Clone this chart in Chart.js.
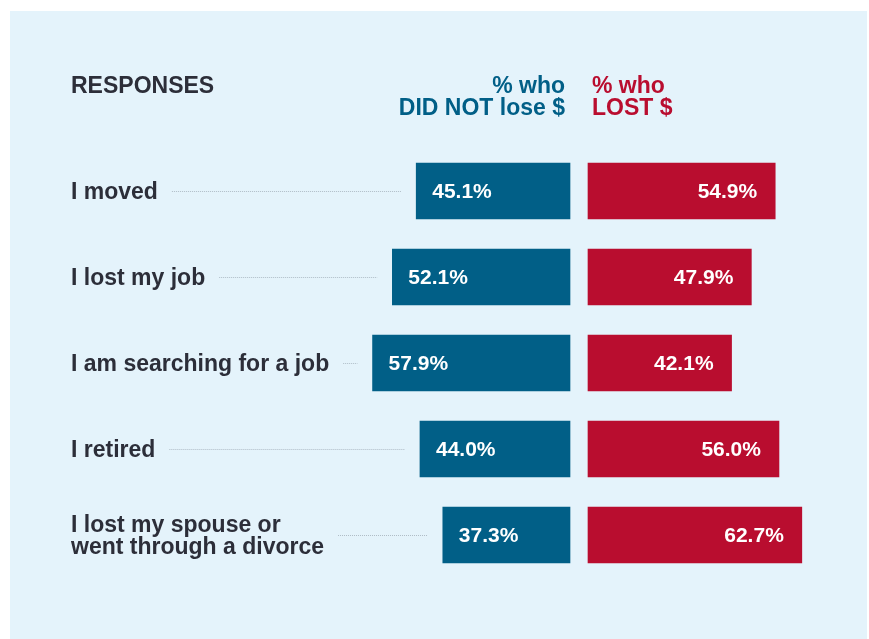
<!DOCTYPE html>
<html>
<head>
<meta charset="utf-8">
<script src="https://cdn.jsdelivr.net/npm/chart.js@4"></script>
<style>
  html, body { margin: 0; padding: 0; background: #fff; }
  #wrap { position: relative; width: 869px; height: 639px; }
  #panel { position: absolute; left: 10px; top: 11px; width: 857px; height: 628px; background: #e4f3fb; }
  #chart { position: absolute; left: 0; top: 0; }
</style>
</head>
<body>
<div id="wrap">
  <div id="panel"></div>
  <canvas id="chart" width="869" height="639"></canvas>
</div>
<script>
// --- data ---
const responses = [
  'I moved',
  'I lost my job',
  'I am searching for a job',
  'I retired',
  ['I lost my spouse or', 'went through a divorce']
];
const didNotLose = [45.1, 52.1, 57.9, 44.0, 37.3];
const lostMoney = [54.9, 47.9, 42.1, 56.0, 62.7];

const FONT = '"Liberation Sans", Arial, sans-serif';
const BLUE = '#015f87';
const RED = '#b90d2f';
const INK = '#2c2e39';

// layout: both bar groups share one px/% ratio, with a gap between their zero lines
const AREA_LEFT = 340, AREA_RIGHT = 860;
const PX_PER_PCT = 3.41;
const BLUE_ZERO = 570, RED_ZERO = 588;

// headers, leaders and value labels
const extras = {
  id: 'extras',
  afterDraw(chart) {
    const ctx = chart.ctx;
    const xs = chart.scales.x, xs2 = chart.scales.x2, ys = chart.scales.y;
    const zeroL = xs.getPixelForValue(0), zeroR = xs2.getPixelForValue(0);
    ctx.save();

    // column headers
    ctx.font = 'bold 23px ' + FONT;
    ctx.textBaseline = 'alphabetic';
    ctx.fillStyle = INK;
    ctx.textAlign = 'left';
    ctx.fillText('RESPONSES', 71, 93);
    ctx.fillStyle = BLUE;
    ctx.textAlign = 'right';
    ctx.fillText('% who', zeroL - 5, 93);
    ctx.fillText('DID NOT lose $', zeroL - 5, 115);
    ctx.fillStyle = RED;
    ctx.textAlign = 'left';
    ctx.fillText('% who', zeroR + 4, 93);
    ctx.fillText('LOST $', zeroR + 4, 115);

    // dotted leaders from label to bar
    ctx.font = 'bold 23px ' + FONT;
    ctx.strokeStyle = 'rgba(140,152,164,0.6)';
    ctx.lineWidth = 1;
    ctx.setLineDash([1, 1]);
    responses.forEach((lab, i) => {
      const lines = Array.isArray(lab) ? lab : [lab];
      const w = Math.max(...lines.map(s => ctx.measureText(s).width));
      const y = Math.round(ys.getPixelForValue(i)) + 0.5;
      const x0 = ys.left + w + 14;
      const x1 = xs.getPixelForValue(-didNotLose[i]) - 15;
      ctx.beginPath();
      ctx.moveTo(x0, y);
      ctx.lineTo(x1, y);
      ctx.stroke();
    });
    ctx.setLineDash([]);

    // values inside the bars
    ctx.font = 'bold 21px ' + FONT;
    ctx.fillStyle = '#fff';
    ctx.textBaseline = 'middle';
    didNotLose.forEach((v, i) => {
      ctx.textAlign = 'left';
      ctx.fillText(v.toFixed(1) + '%', xs.getPixelForValue(-v) + 16, ys.getPixelForValue(i) + 1);
    });
    lostMoney.forEach((v, i) => {
      ctx.textAlign = 'right';
      ctx.fillText(v.toFixed(1) + '%', xs2.getPixelForValue(v) - 18, ys.getPixelForValue(i) + 1);
    });
    ctx.restore();
  }
};

const chartWidth = AREA_RIGHT - AREA_LEFT;
new Chart(document.getElementById('chart'), {
  type: 'bar',
  data: {
    labels: responses,
    datasets: [
      {
        label: '% who DID NOT lose $',
        data: didNotLose.map(v => -v),
        backgroundColor: BLUE,
        xAxisID: 'x',
        grouped: false,
        barThickness: 56
      },
      {
        label: '% who LOST $',
        data: lostMoney,
        backgroundColor: RED,
        xAxisID: 'x2',
        grouped: false,
        barThickness: 56
      }
    ]
  },
  options: {
    indexAxis: 'y',
    responsive: false,
    animation: false,
    layout: { padding: { left: 71, top: 148, bottom: 61, right: 869 - AREA_RIGHT } },
    plugins: { legend: { display: false }, tooltip: { enabled: false } },
    scales: {
      x: {
        display: false,
        bounds: 'data',
        min: -(BLUE_ZERO - AREA_LEFT) / PX_PER_PCT,
        max: (AREA_LEFT + chartWidth - BLUE_ZERO) / PX_PER_PCT
      },
      x2: {
        display: false,
        bounds: 'data',
        min: -(RED_ZERO - AREA_LEFT) / PX_PER_PCT,
        max: (AREA_LEFT + chartWidth - RED_ZERO) / PX_PER_PCT
      },
      y: {
        grid: { display: false },
        border: { display: false },
        afterFit(scale) { scale.width = AREA_LEFT - 71; },
        ticks: {
          crossAlign: 'far',
          labelOffset: 2,
          color: INK,
          font: { family: FONT, size: 23, weight: 'bold', lineHeight: 0.97 }
        }
      }
    }
  },
  plugins: [extras]
});
</script>
</body>
</html>
